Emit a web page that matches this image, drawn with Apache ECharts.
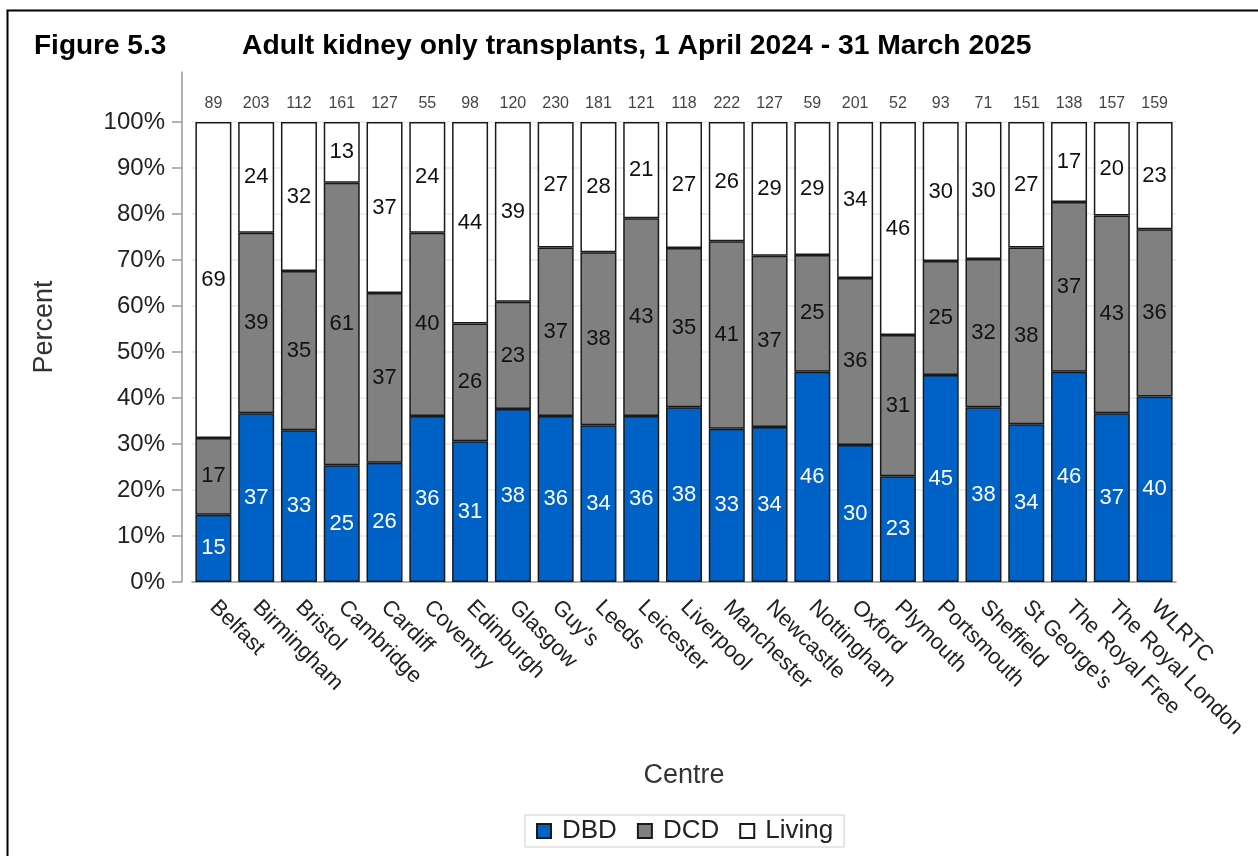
<!DOCTYPE html>
<html>
<head>
<meta charset="utf-8">
<title>Adult kidney only transplants</title>
<script src="https://cdn.jsdelivr.net/npm/echarts@6/dist/echarts.min.js"></script>
<style>
  html, body { margin: 0; padding: 0; background: #fff; }
  #chart { width: 1258px; height: 856px; }
</style>
</head>
<body>
<div id="chart"></div>
<script>
// centres and totals (numbers above bars)
const centres = ["Belfast", "Birmingham", "Bristol", "Cambridge", "Cardiff", "Coventry", "Edinburgh",
  "Glasgow", "Guy's", "Leeds", "Leicester", "Liverpool", "Manchester", "Newcastle", "Nottingham",
  "Oxford", "Plymouth", "Portsmouth", "Sheffield", "St George's", "The Royal Free", "The Royal London", "WLRTC"];
const totals = [89, 203, 112, 161, 127, 55, 98, 120, 230, 181, 121, 118, 222, 127, 59, 201, 52, 93, 71, 151, 138, 157, 159];

// percentages (labels are rounded)
const dbd = [14.6, 36.7, 33.0, 25.4, 25.9, 36.1, 30.6, 37.6, 36.1, 34.1, 36.1, 38.0, 33.3, 33.7, 45.7, 29.8, 23.0, 45.0, 38.0, 34.3, 45.7, 36.7, 40.3];
const dcd = [16.7, 39.2, 34.6, 61.4, 36.9, 39.8, 25.6, 23.3, 36.6, 37.6, 43.0, 34.6, 40.8, 37.2, 25.4, 36.3, 30.7, 24.8, 32.2, 38.4, 36.9, 43.0, 36.4];
const living = [68.7, 24.1, 32.4, 13.2, 37.2, 24.1, 43.8, 39.1, 27.3, 28.3, 20.9, 27.4, 25.9, 29.1, 28.9, 33.9, 46.3, 30.2, 29.8, 27.3, 17.4, 20.3, 23.3];

const yTicks = [0, 10, 20, 30, 40, 50, 60, 70, 80, 90, 100];

const font = "'Liberation Sans', Arial, sans-serif";
const chart = echarts.init(document.getElementById("chart"));

function barSeries(name, data, color, labelColor) {
  return {
    name: name,
    type: "bar",
    stack: "pct",
    data: data,
    barWidth: 36,
    itemStyle: { color: color, borderColor: "#1a1a1a", borderWidth: 1.5 },
    label: {
      show: true,
      position: "inside",
      color: labelColor,
      fontSize: 22,
      fontFamily: font,
      formatter: p => Math.round(p.value)
    },
    emphasis: { disabled: true }
  };
}

const grey = ["#e9e9e9", "#e9e9e9", "#e9e9e9", "#e9e9e9", "#e9e9e9", "#e9e9e9",
  "#e9e9e9", "#e9e9e9", "#e9e9e9", "#e9e9e9", "#e9e9e9", "rgba(0,0,0,0)"];

const option = {
  animation: false,
  backgroundColor: "#fff",
  textStyle: { fontFamily: font },
  graphic: [{
    type: "rect",
    shape: { x: 7.5, y: 10.5, width: 1300, height: 900 },
    style: { fill: "none", stroke: "#000", lineWidth: 2 },
    silent: true
  }],
  title: [
    { text: "Figure 5.3", left: 29, top: 27, textStyle: { fontSize: 28, fontWeight: "bold", color: "#000", fontFamily: font } },
    { text: "Adult kidney only transplants, 1 April 2024 - 31 March 2025", left: 237, top: 27,
      textStyle: { fontSize: 28.3, fontWeight: "bold", color: "#000", fontFamily: font } }
  ],
  legend: {
    bottom: 9,
    left: 525,
    data: ["DBD", "DCD", "Living"],
    icon: "rect",
    itemWidth: 14,
    itemHeight: 14,
    itemGap: 20,
    borderColor: "#cfcfcf",
    borderWidth: 1,
    padding: [3, 11],
    textStyle: { fontSize: 26, color: "#222", fontFamily: font, padding: [0, 0, 0, 6] }
  },
  grid: { left: 192, right: 82, top: 72, bottom: 274 },
  xAxis: {
    type: "category",
    data: centres,
    name: "Centre",
    nameLocation: "middle",
    nameGap: 180,
    nameTextStyle: { fontSize: 27, color: "#333", fontFamily: font },
    axisLine: { lineStyle: { color: "#9a9a9a", width: 1.5 } },
    axisTick: { alignWithLabel: true, length: 8, lineStyle: { color: "#9a9a9a", width: 1.5 } },
    axisLabel: { rotate: -45, margin: 22, fontSize: 22, color: "#222", fontFamily: font, interval: 0 }
  },
  yAxis: {
    type: "value",
    min: 0,
    max: 110.87,
    interval: 10,
    offset: 10,
    name: "Percent",
    nameLocation: "middle",
    nameRotate: 90,
    nameGap: 124,
    nameTextStyle: { fontSize: 27, color: "#333", fontFamily: font },
    axisLine: { show: true, lineStyle: { color: "#9a9a9a", width: 1.5 } },
    axisTick: { show: true, length: 10, customValues: yTicks, lineStyle: { color: "#9a9a9a", width: 1.5 } },
    axisLabel: {
      margin: 17, fontSize: 24, color: "#222", fontFamily: font,
      customValues: yTicks,
      formatter: v => (v <= 100 ? v + "%" : "")
    },
    splitLine: { show: true, lineStyle: { color: grey, width: 1.5 } }
  },
  series: [
    barSeries("DBD", dbd, "#0061c7", "#fff"),
    barSeries("DCD", dcd, "#808080", "#111"),
    barSeries("Living", living, "#fff", "#111"),
    {
      name: "Total",
      type: "scatter",
      symbolSize: 0,
      data: totals.map((t, i) => [i, 104.1, t]),
      label: {
        show: true,
        position: "inside",
        fontSize: 16,
        color: "#111",
        fontFamily: font,
        formatter: p => p.value[2]
      },
      silent: true
    }
  ]
};

chart.setOption(option);
</script>
</body>
</html>
